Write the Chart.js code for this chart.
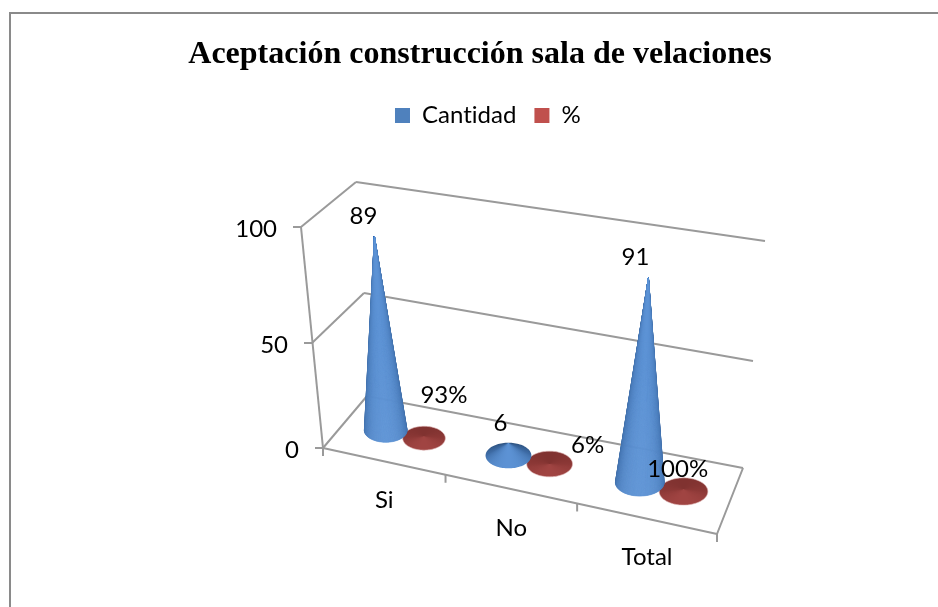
<!DOCTYPE html>
<html><head><meta charset="utf-8">
<style>html,body{margin:0;padding:0;background:#fff}canvas{display:block}</style>
<script src="https://cdn.jsdelivr.net/npm/chart.js@4"></script>
</head><body><canvas id="c" width="938" height="607"></canvas>
<script>
const titleText = "Aceptación construcción sala de velaciones";
const categories = ["Si", "No", "Total"];
const cantidad = [89, 6, 91];
const porcentaje = [0.93, 0.06, 1.00];
const cantidadLabels = ["89", "6", "91"];
const porcentajeLabels = ["93%", "6%", "100%"];
const yTicks = [0, 50, 100];

const FONT = "Lato, Carlito, sans-serif";
const TEXT_SIZE = 24;
const GRID = "#9a9a9a";
// 3D box of the plot: corners per wall level (front/back, left/right)
const wallLevels = [
  {w:0,   f0:[323,448], f1:[717,534], b0:[367,396], b1:[743,468]},
  {w:0.5, f0:[312,343], f1:[723,425], b0:[364,293], b1:[753,361]},
  {w:1,   f0:[301,227], f1:[730,304], b0:[356,182], b1:[765,241]}
];
const xTickFractions = [0, 0.311, 0.645, 1];
const depth = 0.5;
const labelNudge = [
  [[-11,-21],[-8,-20],[-13,-21]],
  [[20,-41],[38,-19],[-6,-20]]
];
const palette = [
  {back:[44,80,125], side:[62,108,166], front:[92,146,212], rim:null},
  {back:[128,50,48], side:[140,56,54], front:[160,68,66], rim:"rgba(225,185,185,0.6)"}
];
const lerp = (a,b,t)=>a+(b-a)*t;
const lerp2 = (p,q,t)=>[lerp(p[0],q[0],t),lerp(p[1],q[1],t)];
function floorAt(L,u,v){ return lerp2(lerp2(L.f0,L.f1,u),lerp2(L.b0,L.b1,u),v); }
function project(u,v,w){
  let i=0; while(i<wallLevels.length-2 && w>wallLevels[i+1].w) i++;
  const A=wallLevels[i],B=wallLevels[i+1];
  return lerp2(floorAt(A,u,v),floorAt(B,u,v),(w-A.w)/(B.w-A.w));
}
function warpU(s){
  const n=xTickFractions.length-1, k=Math.min(n-1,Math.floor(s*n));
  return lerp(xTickFractions[k],xTickFractions[k+1],s*n-k);
}
function shade(p,th){
  const s=Math.sin(th);
  let c;
  if(s>=0){const t=Math.pow(s,0.8);c=p.side.map((v,i)=>v+(p.front[i]-v)*t);}
  else{const t=-s;c=p.side.map((v,i)=>v+(p.back[i]-v)*t);}
  return `rgb(${c.map(Math.round).join(",")})`;
}
function drawCone(ctx,base,apex,rx,ry,p){
  const px=(apex[0]-base[0])/rx,py=(apex[1]-base[1])/ry,n=Math.hypot(px,py);
  const phi=Math.atan2(py,px),al=n>1?Math.acos(1/n):0;
  const a0=phi+al,a1=phi-al+2*Math.PI,N=96;
  const at=t=>[base[0]+rx*Math.cos(t),base[1]+ry*Math.sin(t)];
  if(n<1.3){
    // low cone: smooth shading swept around the apex
    const g=ctx.createConicGradient(0,apex[0],apex[1]),stops=[];
    for(let i=0;i<=N;i++){
      const t=lerp(a0,a1,i/N),q=at(t);
      let a=Math.atan2(q[1]-apex[1],q[0]-apex[0]);
      if(a<0)a+=2*Math.PI;
      stops.push([a/(2*Math.PI),shade(p,t)]);
    }
    stops.sort((a,b)=>a[0]-b[0]).forEach(s=>g.addColorStop(s[0],s[1]));
    ctx.fillStyle=g;
    ctx.beginPath();
    if(n>1)ctx.moveTo(apex[0],apex[1]);
    for(let i=0;i<=N;i++){const q=at(lerp(a0,a1,i/N));ctx.lineTo(q[0],q[1]);}
    ctx.closePath();ctx.fill();
    if(p.rim){ctx.strokeStyle=p.rim;ctx.lineWidth=1;ctx.stroke();}
    return;
  }
  const wedges=[];
  for(let i=0;i<N;i++) wedges.push([lerp(a0,a1,i/N),lerp(a0,a1,(i+1)/N)]);
  wedges.sort((a,b)=>Math.sin((a[0]+a[1])/2)-Math.sin((b[0]+b[1])/2));
  ctx.lineWidth=0.5;
  wedges.forEach(([t0,t1])=>{
    const col=shade(p,(t0+t1)/2),q0=at(t0),q1=at(t1);
    ctx.fillStyle=col;ctx.strokeStyle=col;
    ctx.beginPath();ctx.moveTo(apex[0],apex[1]);
    ctx.lineTo(q0[0],q0[1]);ctx.lineTo(q1[0],q1[1]);
    ctx.closePath();ctx.fill();ctx.stroke();
  });
}
function seg(ctx,a,b){ctx.beginPath();ctx.moveTo(a[0],a[1]);ctx.lineTo(b[0],b[1]);ctx.stroke();}

const conePlugin = {
  id:"cone3d",
  afterLayout(chart){
    chart.titleBlock.left+=11;chart.titleBlock.right+=11;
    chart.legend.left+=19;chart.legend.right+=19;
  },
  beforeDraw(chart){ chart.ctx.letterSpacing="0.01px"; },
  beforeDatasetsDraw(chart){
    const ctx=chart.ctx,y=chart.scales.y,x=chart.scales.x;
    ctx.save();
    ctx.strokeStyle="#8a8a8a";ctx.lineWidth=2;
    ctx.beginPath();ctx.moveTo(938,13);ctx.lineTo(10,13);ctx.lineTo(10,607);ctx.stroke();
    ctx.strokeStyle=GRID;ctx.lineWidth=2;
    y.ticks.forEach(t=>{
      const w=t.value/y.max;
      seg(ctx,project(0,0,w),project(0,1,w));
      seg(ctx,project(0,1,w),project(1,1,w));
      const q=project(0,0,w);
      seg(ctx,q,[q[0]-8,q[1]]);
    });
    seg(ctx,project(0,0,0),project(0,0,1));
    seg(ctx,project(0,0,0),project(1,0,0));
    seg(ctx,project(1,0,0),project(1,1,0));
    xTickFractions.forEach(f=>{const q=project(f,0,0);seg(ctx,q,[q[0],q[1]+8]);});
    ctx.fillStyle="#000";ctx.font=TEXT_SIZE+"px "+FONT;ctx.textBaseline="middle";
    ctx.textAlign="right";
    y.ticks.forEach((t,i)=>{const q=project(0,0,t.value/y.max);ctx.fillText(yTicks[i],q[0]-24,q[1]+2);});
    ctx.textAlign="center";
    categories.forEach((c,i)=>{
      const s=(x.getPixelForValue(i)-x.left)/x.width,q=project(warpU(s),0,0);
      ctx.fillText(c,q[0],q[1]+39);
    });
    ctx.restore();
  },
  beforeDatasetDraw(chart,args){
    const ctx=chart.ctx,x=chart.scales.x,y=chart.scales.y;
    ctx.save();
    args.meta.data.forEach(el=>{
      const s=(el.x-x.left)/x.width,half=el.width/2/x.width;
      const w=(y.bottom-el.y)/y.height;
      const u=warpU(s),base=project(u,depth,0),apex=project(u,depth,w);
      const l=project(warpU(s-half),depth,0),r=project(warpU(s+half),depth,0);
      const rx=Math.hypot(r[0]-l[0],r[1]-l[1])/2*1.09,ry=rx*0.56;
      drawCone(ctx,base,apex,rx,ry,palette[args.index]);
    });
    ctx.restore();
    return false;
  },
  afterDatasetsDraw(chart){
    const ctx=chart.ctx,x=chart.scales.x,y=chart.scales.y;
    ctx.save();
    ctx.fillStyle="#000";ctx.font=TEXT_SIZE+"px "+FONT;ctx.textAlign="center";ctx.textBaseline="middle";
    [cantidadLabels,porcentajeLabels].forEach((labels,d)=>{
      chart.getDatasetMeta(d).data.forEach((el,i)=>{
        const s=(el.x-x.left)/x.width,w=(y.bottom-el.y)/y.height;
        const q=project(warpU(s),depth,w),o=labelNudge[d][i];
        ctx.fillText(labels[i],q[0]+o[0],q[1]+o[1]);
      });
    });
    ctx.restore();
  }
};

new Chart(document.getElementById("c"),{
  type:"bar",
  data:{labels:categories,datasets:[
    {label:"Cantidad",data:cantidad,backgroundColor:"#4f81bd",categoryPercentage:0.64,barPercentage:1},
    {label:"%",data:porcentaje,backgroundColor:"#c0504d",categoryPercentage:0.64,barPercentage:1}
  ]},
  plugins:[conePlugin],
  options:{
    responsive:false,animation:false,
    layout:{padding:0},
    scales:{
      x:{display:false,type:"category"},
      y:{display:false,min:0,max:100,ticks:{stepSize:50}}
    },
    plugins:{
      tooltip:{enabled:false},
      title:{display:true,text:titleText,color:"#000",
        font:{family:"'Liberation Serif', serif",size:32,weight:"bold"},padding:{top:36,bottom:11}},
      legend:{display:true,position:"top",
        labels:{color:"#000",boxWidth:15,boxHeight:15,padding:18,font:{family:FONT,size:TEXT_SIZE}}}
    }
  }
});
</script></body></html>
